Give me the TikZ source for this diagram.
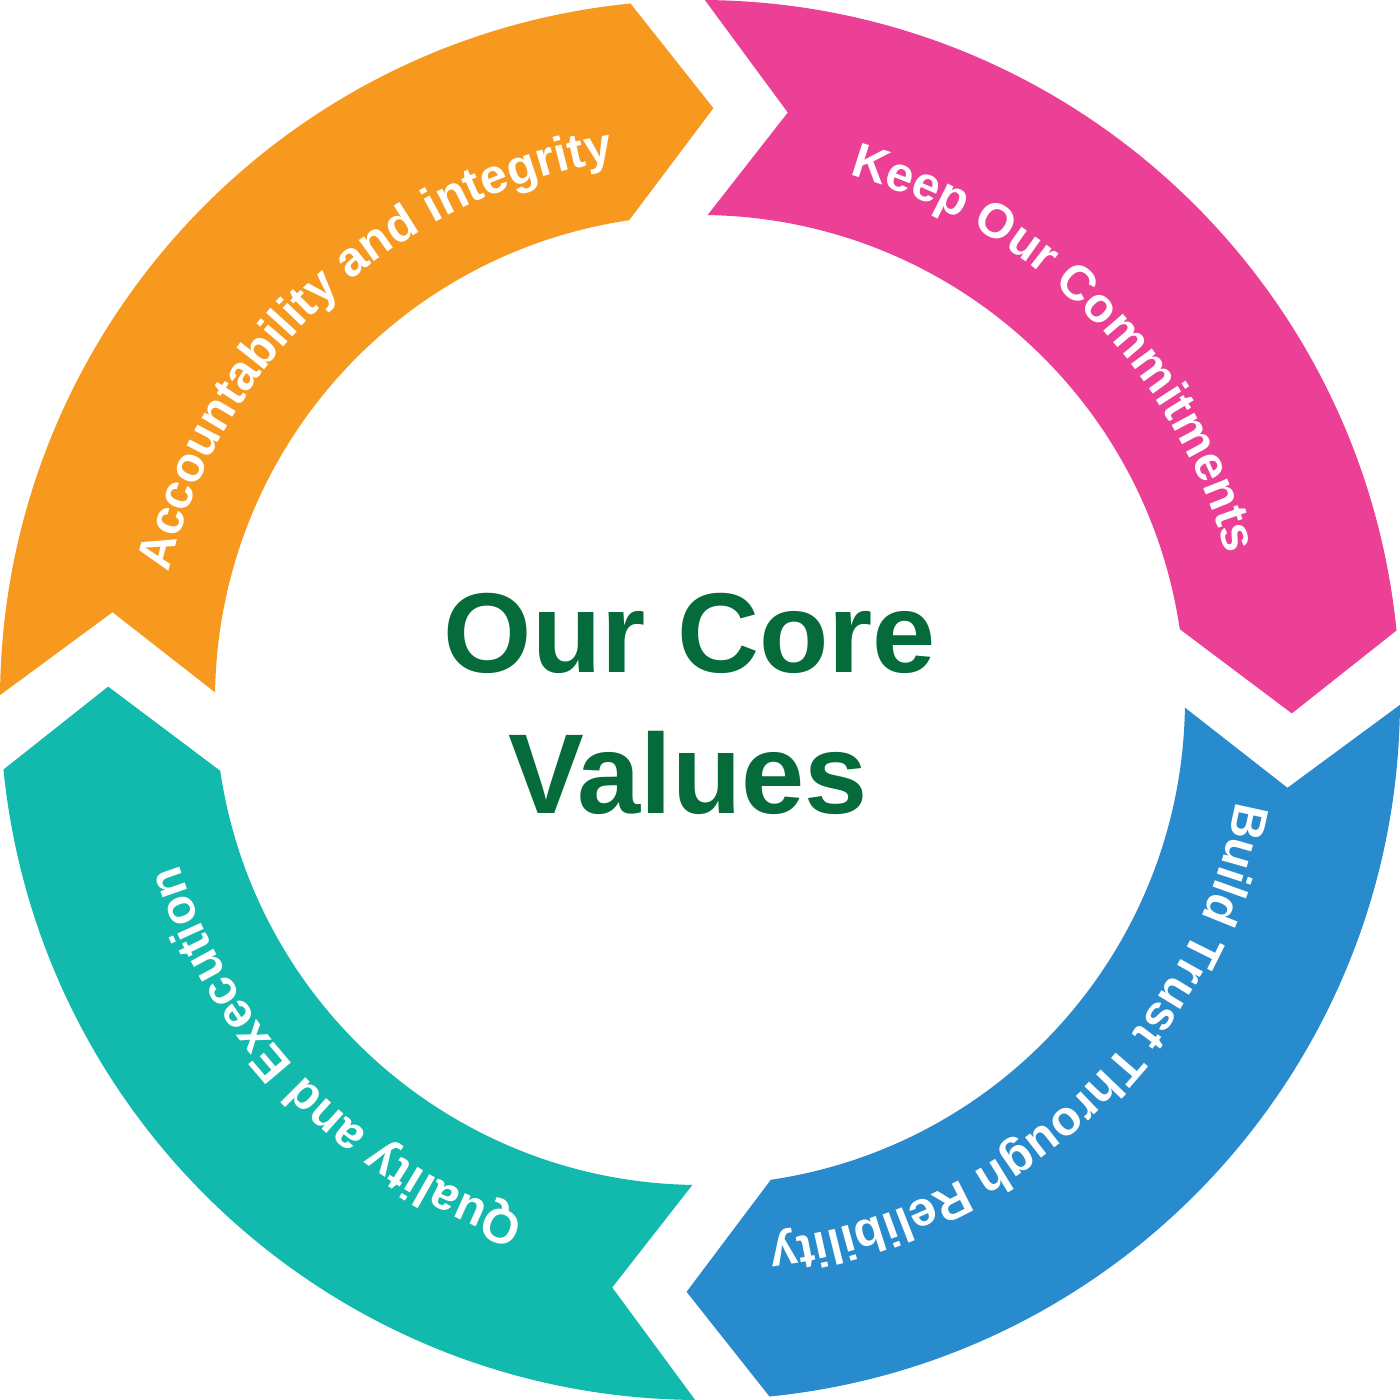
\documentclass[tikz,border=0pt]{standalone}
\usepackage{fontspec}
\setmainfont{Liberation Sans}
\usetikzlibrary{decorations.text}

\definecolor{accorange}{HTML}{F7991F}
\definecolor{keeppink}{HTML}{EC3F96}
\definecolor{trustblue}{HTML}{288BCD}
\definecolor{qualteal}{HTML}{12B9AD}
\definecolor{coregreen}{HTML}{056B3A}

\newcommand{\ringfont}{\color{white}\bfseries\fontsize{13.9}{16}\selectfont}

\tikzset{
  ring label/.style={decorate, decoration={text along path, text align=center, text={|\ringfont|#1}}},
  title/.style={text=coregreen, font=\bfseries\fontsize{32.3}{40}\selectfont, inner sep=0pt},
}

\begin{document}
\begin{tikzpicture}
            \useasboundingbox (-7,-7) rectangle (6.99,7);
            \fill[white] (-7,-7) rectangle (6.99,7);
            % the four arrow segments, clockwise
            \fill[accorange] (179.6:7) arc[start angle=179.6, end angle=95.7, radius=7] -- (88.7:5.92) -- (98.4:4.85) arc[start angle=98.4, end angle=179.1, radius=4.85] -- (171.5:5.94) -- cycle;
            \fill[keeppink] (89.6:7) arc[start angle=89.6, end angle=5.7, radius=7] -- (-1.3:5.92) -- (8.4:4.85) arc[start angle=8.4, end angle=89.1, radius=4.85] -- (81.5:5.94) -- cycle;
            \fill[trustblue] (-0.4:7) arc[start angle=-0.4, end angle=-84.3, radius=7] -- (-91.3:5.92) -- (-81.6:4.85) arc[start angle=-81.6, end angle=-0.9, radius=4.85] -- (-8.5:5.94) -- cycle;
            \fill[qualteal] (269.6:7) arc[start angle=269.6, end angle=185.7, radius=7] -- (178.7:5.92) -- (188.4:4.85) arc[start angle=188.4, end angle=269.1, radius=4.85] -- (261.5:5.94) -- cycle;
            % labels along the ring
            \path[ring label={Accountability and integrity}] (177.8:5.46) arc[start angle=177.8, end angle=87.8, radius=5.46];
            \path[ring label={Keep Our Commitments}] (89.8:5.46) arc[start angle=89.8, end angle=-0.2, radius=5.46];
            \path[ring label={Build Trust Through Relibility}] (-1.7:5.46) arc[start angle=-1.7, end angle=-91.7, radius=5.46];
            \path[ring label={Quality and Execution}] (269.4:5.46) arc[start angle=269.4, end angle=179.4, radius=5.46];
            % centre
            \node[title, anchor=base] (core) at (-0.1,0.27) {Our Core};
            \node[title, anchor=base] (values) at (-0.12,-1.13) {Values};
        \end{tikzpicture}
\end{document}
